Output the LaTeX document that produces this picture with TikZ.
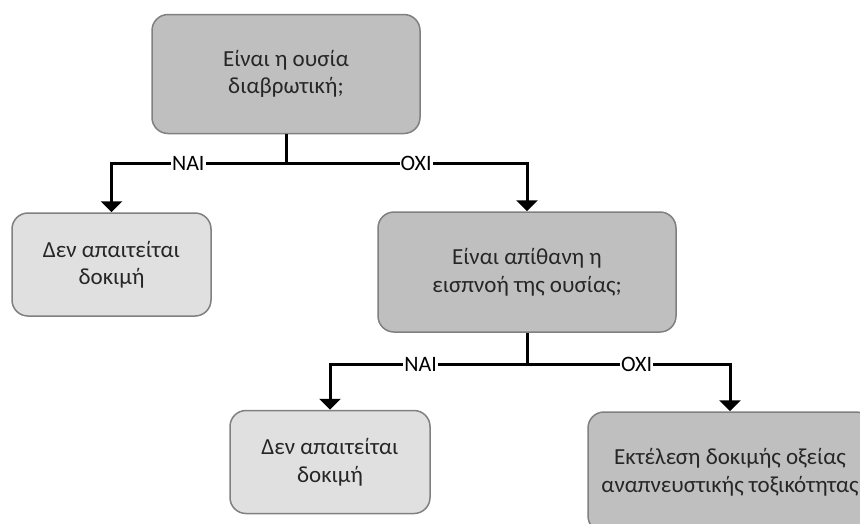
\documentclass[tikz,border=0pt]{standalone}
\usepackage{fontspec}
\setmainfont{Carlito}
\usetikzlibrary{arrows.meta,positioning,calc}

\begin{document}
\begin{tikzpicture}[x=1pt,y=1pt,>={Triangle[width=21pt,length=11pt]},
 ask/.style={rectangle,rounded corners=16pt,draw=black!50,line width=1.5pt,fill=black!25,
  align=center,text=black!85,font=\fontsize{23}{27.5}\selectfont},
 done/.style={ask,fill=black!12},
 link/.style={line width=3pt},
 ans/.style={fill=white,inner sep=1pt,font=\fontsize{22}{26}\selectfont}]
\path[clip,use as bounding box] (0,0) rectangle (860,-523);
% questions
\node[ask,minimum width=268pt,minimum height=119pt] (q1) at (286,-74) {Είναι η ουσία\\διαβρωτική;};
\node[ask,minimum width=298pt,minimum height=120pt] (q2) at (527,-272) {Είναι απίθανη η\\εισπνοή της ουσίας;};
% outcomes
\node[done,minimum width=199pt,minimum height=103pt] (n1) at (111.5,-264.5) {Δεν απαιτείται\\δοκιμή};
\node[done,minimum width=200pt,minimum height=103pt] (n2) at (330,-462) {Δεν απαιτείται\\δοκιμή};
\node[ask,minimum width=284pt,minimum height=120pt] (t) at (730,-472) {Εκτέλεση δοκιμής οξείας\\αναπνευστικής τοξικότητας};
% branch points
\coordinate (j1) at (q1.south |- 0,-163);
\coordinate (j2) at (q2.south |- 0,-364);
\draw[link] (q1.south) -- (j1);
\draw[link,->] (j1) -| node[ans,pos=0.28] {ΝΑΙ} (n1);
\draw[link,->] (j1) -| node[ans,pos=0.27] {ΟΧΙ} (q2);
\draw[link] (q2.south) -- (j2);
\draw[link,->] (j2) -| node[ans,pos=0.27] {ΝΑΙ} (n2);
\draw[link,->] (j2) -| node[ans,pos=0.27] {ΟΧΙ} (t);
\end{tikzpicture}
\end{document}
